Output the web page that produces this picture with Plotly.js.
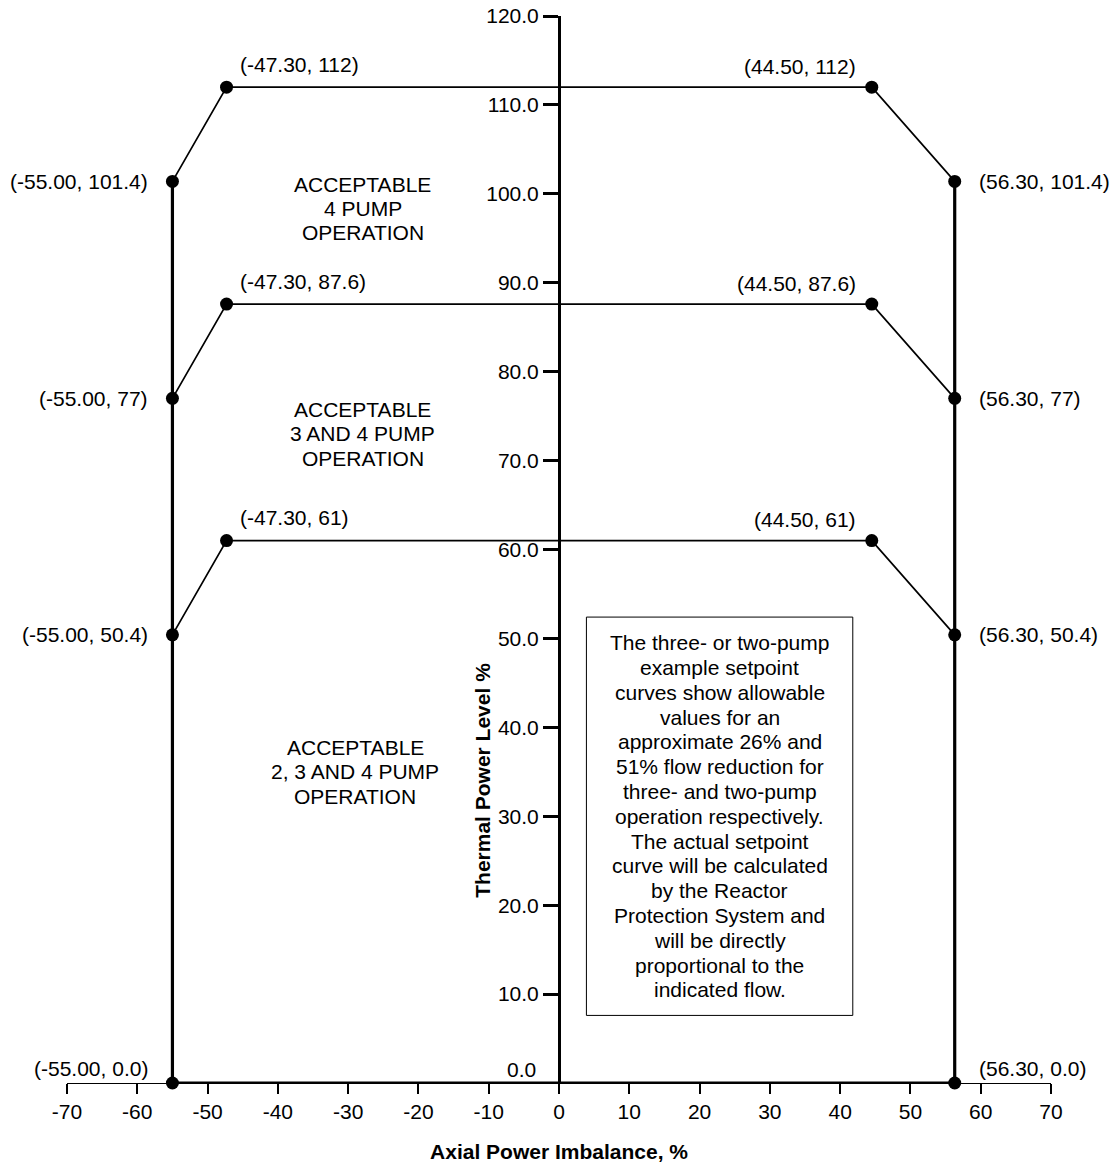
<!DOCTYPE html>
<html>
<head>
<meta charset="utf-8">
<script src="https://cdn.plot.ly/plotly-3.0.1.min.js"></script>
<style>html,body{margin:0;padding:0;background:#fff;}</style>
</head>
<body>
<div id="chart" style="width:1115px;height:1173px;"></div>
<script>
// ---- data ----
const imbalanceX = [-55.0, -47.3, 44.5, 56.3];          // breakpoints of each setpoint curve
const power4Pump = [101.4, 112, 112, 101.4];
const power3Pump = [77, 87.6, 87.6, 77];
const power2Pump = [50.4, 61, 61, 50.4];
const baseX = [-55.0, 56.3];
const baseY = [0, 0];
const yTickVals = [10, 20, 30, 40, 50, 60, 70, 80, 90, 100, 110, 120];
const xTickVals = [-70, -60, -50, -40, -30, -20, -10, 0, 10, 20, 30, 40, 50, 60, 70];

const regionLabels = [
  ["ACCEPTABLE", "4 PUMP", "OPERATION"],
  ["ACCEPTABLE", "3 AND 4 PUMP", "OPERATION"],
  ["ACCEPTABLE", "2, 3 AND 4 PUMP", "OPERATION"]
];
const noteLines = [
  "The three- or two-pump", "example setpoint", "curves show allowable",
  "values for an", "approximate 26% and", "51% flow reduction for",
  "three- and two-pump", "operation respectively.", "The actual setpoint",
  "curve will be calculated", "by the Reactor", "Protection System and",
  "will be directly", "proportional to the", "indicated flow."
];

// ---- helpers ----
const FONT = "Liberation Sans, Arial, Helvetica, sans-serif";
const FS = 21;
function yStr(v) { return v === 0 ? "0.0" : String(v); }
function ptLabel(x, y) { return "(" + x.toFixed(2) + ", " + yStr(y) + ")"; }

const traces = [];
// outer thick frame: left vertical, bottom, right vertical
traces.push({
  x: [baseX[0], baseX[0], baseX[1], baseX[1]],
  y: [power4Pump[0], baseY[0], baseY[1], power4Pump[3]],
  mode: "lines", line: {color: "#000", width: 3.2}, hoverinfo: "skip", showlegend: false
});
[power4Pump, power3Pump, power2Pump].forEach(ys => {
  traces.push({
    x: imbalanceX, y: ys, mode: "lines+markers",
    line: {color: "#000", width: 1.7},
    marker: {color: "#000", size: 13},
    cliponaxis: false, hoverinfo: "skip", showlegend: false
  });
});
traces.push({
  x: baseX, y: baseY, mode: "markers",
  marker: {color: "#000", size: 13}, cliponaxis: false, hoverinfo: "skip", showlegend: false
});

const annotations = [];
function ann(o) {
  annotations.push(Object.assign({showarrow: false, font: {family: FONT, size: FS, color: "#000"}}, o));
}
[power4Pump, power3Pump, power2Pump].forEach(ys => {
  ann({x: imbalanceX[0], y: ys[0], text: ptLabel(imbalanceX[0], ys[0]), xanchor: "right", yanchor: "middle", xshift: -22});
  ann({x: imbalanceX[1], y: ys[1], text: ptLabel(imbalanceX[1], ys[1]), xanchor: "left", yanchor: "middle", xshift: 11, yshift: 23});
  ann({x: imbalanceX[2], y: ys[2], text: ptLabel(imbalanceX[2], ys[2]), xanchor: "right", yanchor: "middle", xshift: -14, yshift: 21});
  ann({x: imbalanceX[3], y: ys[3], text: ptLabel(imbalanceX[3], ys[3]), xanchor: "left", yanchor: "middle", xshift: 22});
});
ann({x: baseX[0], y: baseY[0], text: ptLabel(baseX[0], baseY[0]), xanchor: "right", yanchor: "middle", xshift: -22, yshift: 15});
ann({x: baseX[1], y: baseY[1], text: ptLabel(baseX[1], baseY[1]), xanchor: "left", yanchor: "middle", xshift: 22, yshift: 15});
// y tick label at 0 sits above the x axis
ann({x: 0, y: 0, text: "0.0", xanchor: "right", yanchor: "middle", xshift: -21, yshift: 14});

function block(lines, x, y, spacing) {
  const n = lines.length;
  lines.forEach((t, i) => {
    ann({x: x, y: y, text: t, xanchor: "center", yanchor: "middle",
         yshift: ((n - 1) / 2 - i) * spacing});
  });
}
block(regionLabels[0], -27.9, 98.4, 24);
block(regionLabels[1], -27.9, 73.0, 24.5);
block(regionLabels[2], -29.0, 35.0, 24.5);
block(noteLines, 22.9, 30.0, 24.8);

// y-axis title placed off-centre, as in the original
ann({x: -10.8, y: 34.0, text: "<b>Thermal Power Level %</b>", textangle: -90,
     xanchor: "center", yanchor: "middle"});

const layout = {
  width: 1115, height: 1173,
  margin: {l: 67, r: 64, t: 16, b: 90},
  paper_bgcolor: "#fff", plot_bgcolor: "#fff",
  font: {family: FONT, size: FS, color: "#000"},
  showlegend: false,
  xaxis: {
    range: [-70, 70], tickvals: xTickVals, ticktext: xTickVals.map(v => String(v)),
    ticks: "outside", ticklen: 10, tickwidth: 2,
    tickcolor: "#000", showline: true, linecolor: "#000", linewidth: 1,
    showgrid: false, zeroline: false, automargin: false,
    tickfont: {family: FONT, size: FS, color: "#000"},
    title: {text: "<b>Axial Power Imbalance, %</b>", standoff: 22,
            font: {family: FONT, size: FS, color: "#000"}}
  },
  yaxis: {
    range: [0, 120], anchor: "free", position: 0.5, side: "left",
    tickvals: yTickVals, ticktext: yTickVals.map(v => v.toFixed(1)),
    ticks: "outside", ticklen: 15, tickwidth: 3, tickcolor: "#000",
    showline: true, linecolor: "#000", linewidth: 3,
    showgrid: false, zeroline: false, automargin: false,
    tickfont: {family: FONT, size: FS, color: "#000"}
  },
  shapes: [{type: "rect", xref: "x", yref: "y", x0: 3.9, x1: 41.8, y0: 7.6, y1: 52.4,
            line: {color: "#000", width: 1}, fillcolor: "rgba(0,0,0,0)"}],
  annotations: annotations
};

Plotly.newPlot("chart", traces, layout, {staticPlot: true, displayModeBar: false});
</script>
</body>
</html>
